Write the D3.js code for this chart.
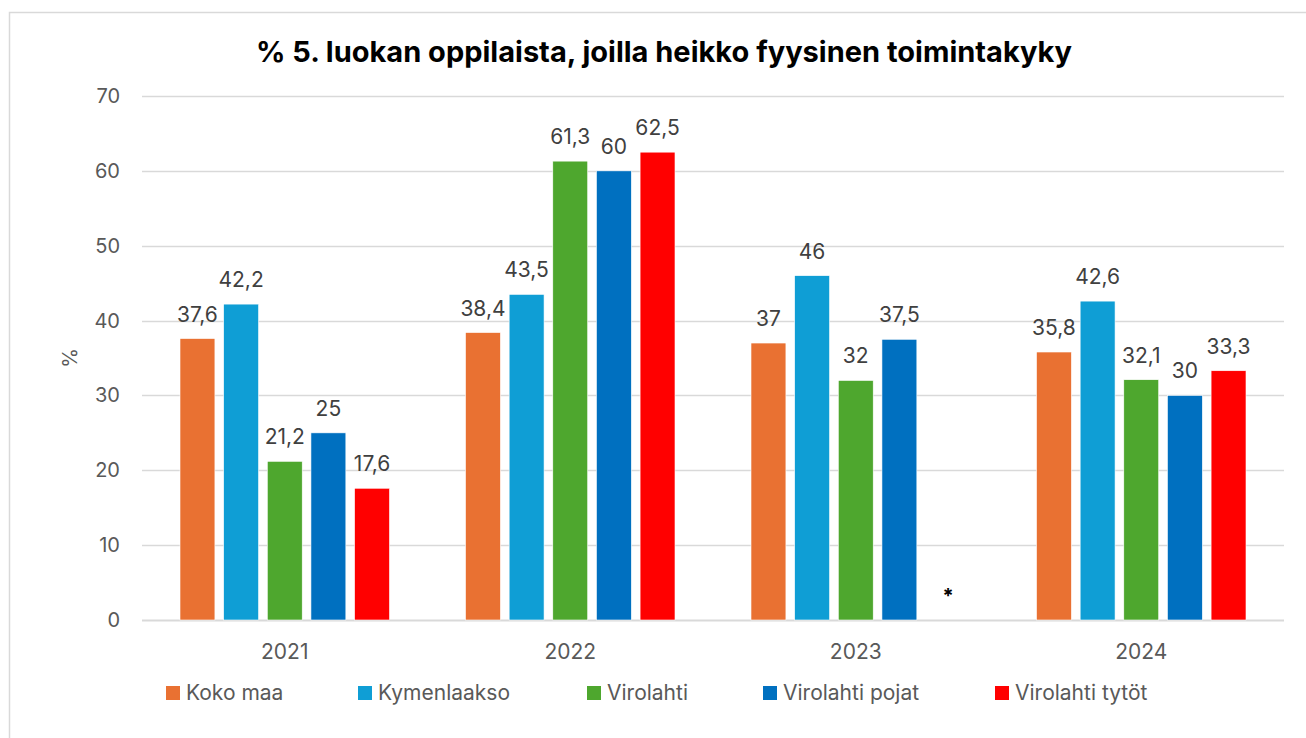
<!DOCTYPE html>
<html>
<head>
<meta charset="utf-8">
<script src="https://cdnjs.cloudflare.com/ajax/libs/d3/7.8.5/d3.min.js"></script>
<style>
  body { margin: 0; background: #fff; }
  svg { font-family: Inter, "Open Sans", sans-serif; }
</style>
</head>
<body>
<div id="vis"></div>
<script>
  const years = ["2021", "2022", "2023", "2024"];
  const seriesNames = ["Koko maa", "Kymenlaakso", "Virolahti", "Virolahti pojat", "Virolahti tytöt"];
  const kokoMaa = [37.6, 38.4, 37, 35.8];
  const kymenlaakso = [42.2, 43.5, 46, 42.6];
  const virolahti = [21.2, 61.3, 32, 32.1];
  const virolahtiPojat = [25, 60, 37.5, 30];
  const virolahtiTytot = [17.6, 62.5, null, 33.3];
  const yTicks = [0, 10, 20, 30, 40, 50, 60, 70];
  const colors = ["#E97132", "#0F9ED5", "#4EA72E", "#0070C0", "#FF0000"];

  const allSeries = [kokoMaa, kymenlaakso, virolahti, virolahtiPojat, virolahtiTytot];

  const W = 1306, H = 738;
  const plotL = 142, plotR = 1284, plotT = 96, plotB = 620;

  const svg = d3.select("#vis").append("svg")
      .attr("width", W).attr("height", H);

  // chart frame (only left/top visible in the crop)
  svg.append("path")
      .attr("d", `M9.5,${H} L9.5,12.5 L${W},12.5`)
      .attr("fill", "none")
      .attr("stroke", "#d9d9d9")
      .attr("stroke-width", 1.5);

  svg.append("text")
      .attr("x", 664).attr("y", 62)
      .attr("text-anchor", "middle")
      .attr("font-size", 29).attr("font-weight", 700)
      .attr("fill", "#000")
      .text("% 5. luokan oppilaista, joilla heikko fyysinen toimintakyky");

  const y = d3.scaleLinear().domain([0, 70]).range([plotB, plotT]);
  const x0 = d3.scaleBand().domain(years).range([plotL, plotR]);
  const pad = 38;
  const x1 = d3.scaleBand().domain(d3.range(seriesNames.length))
      .range([pad, x0.bandwidth() - pad]).paddingInner(0.2).paddingOuter(0);

  // gridlines
  svg.append("g").selectAll("line").data(yTicks).join("line")
      .attr("x1", plotL).attr("x2", plotR)
      .attr("y1", d => Math.round(y(d)) + 0.5).attr("y2", d => Math.round(y(d)) + 0.5)
      .attr("stroke", "#d9d9d9").attr("stroke-width", d => d === 0 ? 2 : 1.3);

  svg.append("g").selectAll("text").data(yTicks).join("text")
      .attr("x", 120).attr("y", d => y(d))
      .attr("dy", "0.35em").attr("text-anchor", "end")
      .attr("font-size", 20).attr("fill", "#595959")
      .text(d => d);

  svg.append("text")
      .attr("transform", "translate(77,358) rotate(-90)")
      .attr("text-anchor", "middle")
      .attr("font-size", 20).attr("fill", "#595959")
      .text("%");

  svg.append("g").selectAll("text").data(years).join("text")
      .attr("x", d => x0(d) + x0.bandwidth() / 2).attr("y", 659)
      .attr("text-anchor", "middle")
      .attr("font-size", 21).attr("fill", "#595959")
      .text(d => d);

  const groups = svg.append("g").selectAll("g").data(years).join("g")
      .attr("transform", d => `translate(${x0(d)},0)`);

  const cells = groups.selectAll("g")
      .data((yr, i) => allSeries.map((s, k) => ({k, v: s[i]})))
      .join("g");

  cells.filter(d => d.v != null).append("rect")
      .attr("x", d => x1(d.k)).attr("width", x1.bandwidth())
      .attr("y", d => y(d.v)).attr("height", d => y(0) - y(d.v))
      .attr("fill", d => colors[d.k])
      .attr("stroke", "#fff").attr("stroke-width", 0.6);

  cells.filter(d => d.v != null).append("text")
      .attr("x", d => x1(d.k) + x1.bandwidth() / 2)
      .attr("y", d => y(d.v) - 17)
      .attr("text-anchor", "middle")
      .attr("font-size", 21).attr("fill", "#404040")
      .text(d => String(d.v).replace(".", ","));

  // missing value marker
  cells.filter(d => d.v == null).append("text")
      .attr("x", d => x1(d.k) + x1.bandwidth() / 2 + 5)
      .attr("y", y(0) - 17)
      .attr("text-anchor", "middle")
      .attr("font-size", 20).attr("font-weight", 700).attr("fill", "#000")
      .text("*");

  const legendX = [166, 358, 587, 763, 995];
  const lg = svg.append("g").selectAll("g").data(seriesNames).join("g")
      .attr("transform", (d, i) => `translate(${legendX[i]},693)`);
  lg.append("rect").attr("x", 0).attr("y", -7).attr("width", 14).attr("height", 14)
      .attr("fill", (d, i) => colors[i]);
  lg.append("text").attr("x", 20).attr("dy", "0.35em")
      .attr("font-size", 21).attr("fill", "#595959")
      .text(d => d);
</script>
</body>
</html>
